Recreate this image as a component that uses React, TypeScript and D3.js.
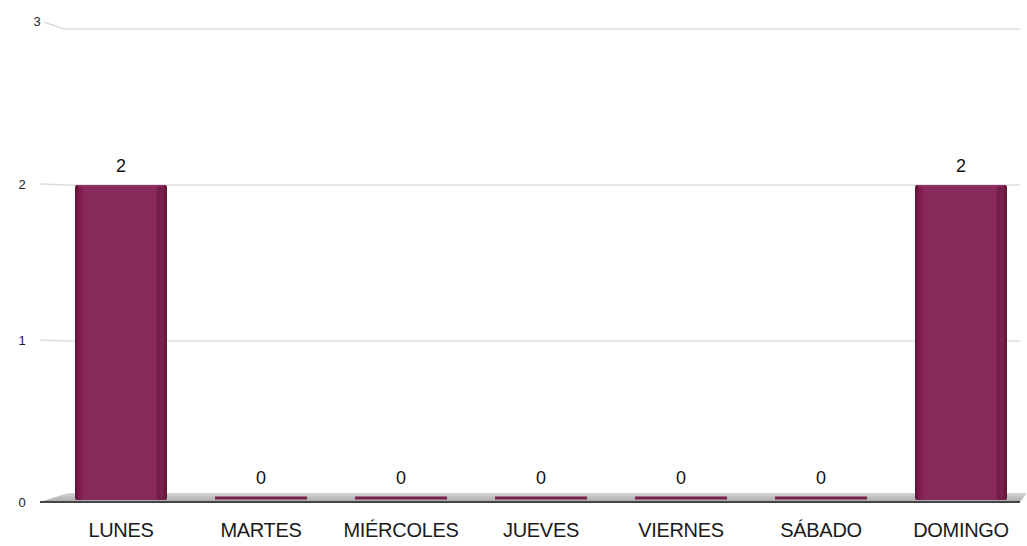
import React from "react";
import * as d3 from "d3";

const categories = ["LUNES", "MARTES", "MIÉRCOLES", "JUEVES", "VIERNES", "SÁBADO", "DOMINGO"];
const values = [2, 0, 0, 0, 0, 0, 2];
const yTicks = [0, 1, 2, 3];

const W = 1027;
const H = 546;

export default function App() {
  const x = d3.scaleBand<string>().domain(categories).range([51, 1031]).paddingInner(0.343).paddingOuter(0.1715);
  const y = d3.scaleLinear().domain([0, 3]).range([497, 29]);
  const font = "'Liberation Sans', Arial, sans-serif";
  const bw = x.bandwidth();
  return (
    <svg width={W} height={H} style={{ position: "absolute", left: 0, top: 0, background: "#fff" }}>
      <defs>
        <linearGradient id="barFace" x1="0" x2="1" y1="0" y2="0">
          <stop offset="0" stopColor="#5c1236" />
          <stop offset="0.05" stopColor="#7e1c4c" />
          <stop offset="0.1" stopColor="#87295b" />
          <stop offset="0.88" stopColor="#87295b" />
          <stop offset="0.9" stopColor="#6e1d46" />
          <stop offset="0.95" stopColor="#7a2250" />
          <stop offset="1" stopColor="#5a1334" />
        </linearGradient>
        <linearGradient id="floor" x1="0" x2="0" y1="0" y2="1">
          <stop offset="0" stopColor="#d6d6d6" />
          <stop offset="1" stopColor="#a8a8a8" />
        </linearGradient>
      </defs>
      {yTicks.map((t) => {
        const yy = y(t);
        if (t === 0) return null;
        return (
          <g key={t}>
            <line x1={64} x2={1020} y1={yy} y2={yy} stroke="#dcdcdc" strokeWidth={1.5} />
            <line x1={t === 3 ? 44 : 40} y1={t === 3 ? yy - 7 : yy - 1} x2={64} y2={yy} stroke="#dcdcdc" strokeWidth={1.5} />
          </g>
        );
      })}
      {yTicks.map((t) => (
        <text key={"l" + t} x={t === 3 ? 37 : 22} y={t === 3 ? y(t) - 3 : t === 0 ? y(t) + 10 : y(t) + 4} fontSize={13} fill="#222" textAnchor="middle" fontFamily={font}>
          {t}
        </text>
      ))}
      <polygon points={`40,${y(0) + 5} 1020,${y(0) + 5} 1027,${y(0) - 4} 68,${y(0) - 4}`} fill="url(#floor)" />
      <line x1={40} x2={1020} y1={y(0) + 5} y2={y(0) + 5} stroke="#444" strokeWidth={1.8} />
      {categories.map((c, i) => {
        const v = values[i];
        const x0 = x(c)!;
        const top = y(v);
        const h = Math.max(3, y(0) + 3 - top);
        const yTop = v === 0 ? y(0) - 0.5 : top;
        return (
          <g key={c}>
            <rect x={x0} y={yTop} width={bw} height={v === 0 ? 3 : h} fill={v === 0 ? "#7a1f4c" : "url(#barFace)"} rx={v === 0 ? 0 : 2} />
            {v > 0 && <line x1={x0 + 3} x2={x0 + bw - 3} y1={top + 1} y2={top + 1} stroke="#9a3a6c" strokeWidth={1} />}
            <text x={x0 + bw / 2} y={(v === 0 ? y(0) : top) - 13} fontSize={18} fill="#111" textAnchor="middle" fontFamily={font}>
              {v}
            </text>
            <text x={x0 + bw / 2} y={537} fontSize={20} fill="#1a1a1a" textAnchor="middle" fontFamily={font} letterSpacing={-0.3}>
              {c}
            </text>
          </g>
        );
      })}
    </svg>
  );
}
